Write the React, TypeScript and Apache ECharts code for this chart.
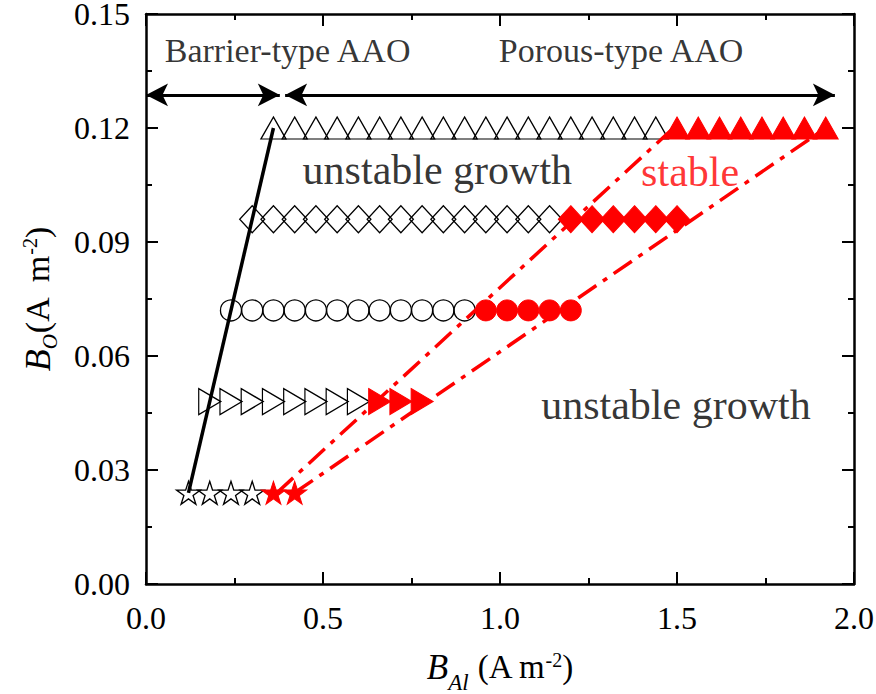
import React, { useEffect, useRef } from "react";
import * as echarts from "echarts";

// ---- data ----
const starY = 0.024;
const starOpenX = [0.12, 0.18, 0.24, 0.3];
const starFilledX = [0.36, 0.42];

const rtriY = 0.048;
const rtriOpenX = [0.18, 0.24, 0.3, 0.36, 0.42, 0.48, 0.54, 0.6];
const rtriFilledX = [0.66, 0.72, 0.78];

const circleY = 0.072;
const circleOpenX = [0.24, 0.3, 0.36, 0.42, 0.48, 0.54, 0.6, 0.66, 0.72, 0.78, 0.84, 0.9];
const circleFilledX = [0.96, 1.02, 1.08, 1.14, 1.2];

const diamondY = 0.096;
const diamondOpenX = [0.3, 0.36, 0.42, 0.48, 0.54, 0.6, 0.66, 0.72, 0.78, 0.84, 0.9, 0.96, 1.02, 1.08, 1.14];
const diamondFilledX = [1.2, 1.26, 1.32, 1.38, 1.44, 1.5];

const triY = 0.12;
const triOpenX = [0.36, 0.42, 0.48, 0.54, 0.6, 0.66, 0.72, 0.78, 0.84, 0.9, 0.96, 1.02, 1.08, 1.14, 1.2, 1.26, 1.32, 1.38, 1.44];
const triFilledX = [1.5, 1.56, 1.62, 1.68, 1.74, 1.8, 1.86, 1.92];

const barrierLineX = [0.12, 0.36];
const barrierLineY = [0.024, 0.12];
const stableLowX = [0.37, 1.49];
const stableLowY = [0.024, 0.12];
const stableHighX = [0.42, 1.92];
const stableHighY = [0.024, 0.12];

const arrowY = 0.1287;
const barrierArrowX = [0.0, 0.378];
const porousArrowX = [0.393, 1.946];

const annotTexts = ["Barrier-type AAO", "Porous-type AAO", "unstable growth", "stable", "unstable growth"];
const annotX = [0.4, 1.342, 0.823, 1.537, 1.497];
const annotY = [0.1405, 0.1405, 0.109, 0.1084, 0.0471];

const xTicks = { min: 0, max: 2, interval: 0.5 };
const yTicks = { min: 0, max: 0.15, interval: 0.03 };

const FONT = "'Liberation Serif', 'Times New Roman', serif";
const STAR = "path://M50,0 L61.23,34.55 L97.55,34.55 L68.17,55.9 L79.39,90.45 L50,69.1 L20.61,90.45 L31.83,55.9 L2.45,34.55 L38.77,34.55 Z";
const RTRI = "path://M0,0 L10,5 L0,10 Z";

function pts(xs: number[], y: number) {
  return xs.map((x) => [x, y]);
}
function pairs(xs: number[], ys: number[]) {
  return xs.map((x, i) => [x, ys[i]]);
}

function markerSeries(xs: number[], y: number, symbol: string, size: any, filled: boolean) {
  return {
    type: "line",
    data: pts(xs, y),
    symbol,
    symbolSize: size,
    showSymbol: true,
    lineStyle: { width: 0, opacity: 0 },
    itemStyle: filled
      ? { color: "#ff0000", borderColor: "#ff0000", borderWidth: 1 }
      : { color: "rgba(0,0,0,0)", borderColor: "#000", borderWidth: 1.3 },
    z: 2,
    silent: true,
  };
}

function makeRich(subPad: number, subSize: number, mainSize: number) {
  return {
    b: { fontFamily: FONT, fontStyle: "italic", fontSize: mainSize + 2, color: "#000", lineHeight: 36, verticalAlign: "top" },
    n: { fontFamily: FONT, fontSize: mainSize, color: "#000", lineHeight: 36, verticalAlign: "top" },
    sub: { fontFamily: FONT, fontStyle: "italic", fontSize: subSize, color: "#000", lineHeight: 18, padding: [subPad, 0, 0, 0], verticalAlign: "top" },
    sup: { fontFamily: FONT, fontSize: 20, color: "#000", lineHeight: 18, padding: [0, 0, 10, 0], verticalAlign: "top" },
  };
}

const axisCommon = {
  type: "value",
  axisLine: { show: true, onZero: false, lineStyle: { color: "#000", width: 2.5 } },
  axisTick: { show: true, inside: true, length: 12, lineStyle: { color: "#000", width: 2 } },
  minorTick: { show: true, splitNumber: 2, length: 6, lineStyle: { color: "#000", width: 2 } },
  splitLine: { show: false },
};

export default function App() {
  const ref = useRef<HTMLDivElement>(null);
  useEffect(() => {
    if (!ref.current) return;
    const chart = echarts.init(ref.current, null, { renderer: "svg" });
    const option: any = {
      animation: false,
      backgroundColor: "#fff",
      textStyle: { fontFamily: FONT },
      grid: { left: 146, right: 22, top: 14, bottom: 110, containLabel: false, outerBoundsMode: "none" },
      xAxis: [
        {
          ...axisCommon,
          ...xTicks,
          position: "bottom",
          axisLabel: { fontFamily: FONT, fontSize: 32, color: "#000", margin: 18, formatter: (v: number) => v.toFixed(1) },
          name: "{b|B}{sub|Al}{n| (A m}{sup|-2}{n|)}",
          nameLocation: "middle",
          nameGap: 66,
          nameTextStyle: { rich: makeRich(21, 23, 33), fontFamily: FONT },
        },
        {
          ...axisCommon,
          ...xTicks,
          position: "top",
          axisLabel: { show: false },
        },
      ],
      yAxis: [
        {
          ...axisCommon,
          ...yTicks,
          position: "left",
          axisLabel: { fontFamily: FONT, fontSize: 32, lineHeight: 24, color: "#000", margin: 16, formatter: (v: number) => v.toFixed(2) },
          name: "{b|B}{sub|O}{n|(A  m}{sup|-2}{n|)}",
          nameLocation: "middle",
          nameRotate: 90,
          nameGap: 90,
          nameTextStyle: { rich: makeRich(19, 21, 34), fontFamily: FONT },
        },
        {
          ...axisCommon,
          ...yTicks,
          position: "right",
          axisLabel: { show: false },
        },
      ],
      series: [
        markerSeries(starOpenX, starY, STAR, [24, 23], false),
        markerSeries(starFilledX, starY, STAR, [24, 23], true),
        markerSeries(rtriOpenX, rtriY, RTRI, [22, 26], false),
        markerSeries(rtriFilledX, rtriY, RTRI, [22, 26], true),
        markerSeries(circleOpenX, circleY, "circle", 21, false),
        markerSeries(circleFilledX, circleY, "circle", 21, true),
        markerSeries(diamondOpenX, diamondY, "diamond", [25, 27], false),
        markerSeries(diamondFilledX, diamondY, "diamond", [25, 27], true),
        markerSeries(triOpenX, triY, "triangle", [25, 22], false),
        markerSeries(triFilledX, triY, "triangle", [25, 22], true),
        {
          type: "line",
          data: pairs(barrierLineX, barrierLineY),
          showSymbol: false,
          symbol: "none",
          lineStyle: { color: "#000", width: 3.5 },
          z: 4,
          silent: true,
        },
        {
          type: "line",
          data: pairs(stableLowX, stableLowY),
          symbol: "none",
          lineStyle: { color: "#ff0000", width: 3.5, type: [22, 8, 5, 8] },
          z: 4,
          silent: true,
        },
        {
          type: "line",
          data: pairs(stableHighX, stableHighY),
          symbol: "none",
          lineStyle: { color: "#ff0000", width: 3.5, type: [22, 8, 5, 8] },
          z: 4,
          silent: true,
        },
        {
          type: "line",
          data: [],
          symbol: "none",
          silent: true,
          markLine: {
            silent: true,
            symbol: ["arrow", "arrow"],
            symbolSize: [17, 22],
            label: { show: false },
            lineStyle: { color: "#000", width: 3, type: "solid" },
            data: [
              [{ coord: [barrierArrowX[0], arrowY] }, { coord: [barrierArrowX[1], arrowY] }],
              [{ coord: [porousArrowX[0], arrowY] }, { coord: [porousArrowX[1], arrowY] }],
            ],
          },
        },
        {
          type: "scatter",
          symbolSize: 0,
          silent: true,
          z: 5,
          data: annotTexts.map((t, i) => ({
            value: [annotX[i], annotY[i]],
            name: t,
            label: {
              show: true,
              position: "inside",
              formatter: t,
              fontFamily: FONT,
              fontSize: i < 2 ? 34 : 42,
              color: i === 3 ? "#ff0000" : "#000",
              textBorderWidth: 0,
            },
          })),
        },
      ],
    };
    chart.setOption(option);
    return () => chart.dispose();
  }, []);
  return <div ref={ref} style={{ position: "fixed", left: 0, top: 0, width: 876, height: 694 }} />;
}
